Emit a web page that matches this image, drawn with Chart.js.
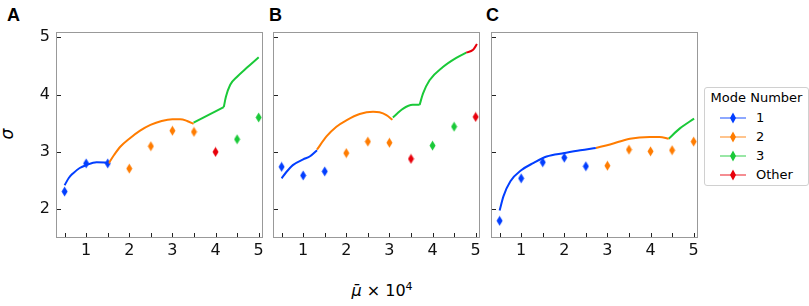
<!DOCTYPE html>
<html>
<head>
<meta charset="utf-8">
<script src="https://cdn.jsdelivr.net/npm/chart.js@4.4.0/dist/chart.umd.min.js"></script>
<style>
  body { margin: 0; background: #fff; width: 809px; height: 306px; position: relative; overflow: hidden; font-family: "DejaVu Sans", sans-serif; }
  canvas { position: absolute; top: 0; }
  .panel { position: absolute; font-family: "Liberation Sans", Arial, sans-serif; font-weight: bold; font-size: 18px; top: 5px; }
  #xlab { position: absolute; left: 330px; width: 104px; text-align: center; top: 280px; font-size: 16px; }
  #ylab { position: absolute; left: 2px; top: 124px; font-size: 17px; font-style: italic; transform: rotate(-90deg); }
  #legend { position: absolute; left: 704px; top: 87px; width: 103px; height: 97px; border: 1px solid #d0d0d0; border-radius: 3px; background: #fff; z-index: 5; font-size: 13px; }
  #legend .title { text-align: center; margin-top: 2px; height: 19px; }
  #legend .row { height: 19px; position: relative; }
  #legend svg { position: absolute; left: 14px; top: 3px; }
  #legend span { position: absolute; left: 51px; top: 1px; }
</style>
</head>
<body>
<div class="panel" style="left:7px">A</div>
<div class="panel" style="left:269px">B</div>
<div class="panel" style="left:486px">C</div>
<div id="ylab">σ</div>
<div id="xlab"><i>μ̄</i> × 10<sup style="font-size:11px">4</sup></div>
<canvas id="chartA" width="273" height="265" style="left:0px"></canvas>
<canvas id="chartB" width="227" height="265" style="left:263px"></canvas>
<canvas id="chartC" width="227" height="265" style="left:481px"></canvas>
<div id="legend"><div class="title">Mode Number</div></div>

<script>
// mu values (x 10^4) of the simulated points, and axis ticks
const muVals = [0.5, 1, 1.5, 2, 2.5, 3, 3.5, 4, 4.5, 5];
const xLabelTicks = [1, 2, 3, 4, 5];
const sigmaTicks = [2, 3, 4, 5];

const modeNames = ['1', '2', '3', 'Other'];
const modeColors = ['#023eff', '#ff7c00', '#1ac938', '#e8000b'];

// points (diamonds); mode index 0..3 (3 = Other)
const sigmaA = [2.31, 2.80, 2.80, 2.71, 3.10, 3.37, 3.35, 3.00, 3.22, 3.60];
const modeA  = [0, 0, 0, 1, 1, 1, 1, 3, 2, 2];
const sigmaB = [2.74, 2.59, 2.66, 2.98, 3.18, 3.16, 2.88, 3.11, 3.44, 3.61];
const modeB  = [0, 0, 0, 1, 1, 1, 3, 2, 2, 3];
const sigmaC = [1.80, 2.54, 2.82, 2.90, 2.75, 2.76, 3.04, 3.01, 3.03, 3.18];
const modeC  = [0, 0, 0, 0, 0, 1, 1, 1, 1, 1];

// theory curves, [mu, sigma]
const curveA_1 = [[0.5, 2.42], [0.6, 2.55], [0.7, 2.63], [0.85, 2.72], [1.0, 2.77], [1.24, 2.82], [1.52, 2.81]];
const curveA_2 = [[1.52, 2.80], [1.65, 2.95], [1.79, 3.09], [2.0, 3.23], [2.25, 3.37], [2.49, 3.47], [2.75, 3.54], [3.0, 3.57], [3.18, 3.57], [3.34, 3.54], [3.49, 3.49]];
const curveA_3a = [[3.49, 3.51], [4.19, 3.78]];
const curveA_3b = [[4.19, 3.78], [4.24, 3.96], [4.34, 4.17], [4.5, 4.31], [4.73, 4.47], [5.0, 4.65]];

const curveB_1 = [[0.5, 2.54], [0.61, 2.65], [0.76, 2.77], [1.0, 2.87], [1.15, 2.92], [1.32, 3.03]];
const curveB_2 = [[1.32, 3.04], [1.54, 3.27], [1.77, 3.44], [2.0, 3.55], [2.31, 3.66], [2.62, 3.70], [2.77, 3.69], [2.93, 3.64], [3.07, 3.56]];
const curveB_3a = [[3.08, 3.60], [3.31, 3.75], [3.54, 3.82], [3.70, 3.82]];
const curveB_3b = [[3.70, 3.82], [3.78, 4.02], [3.93, 4.25], [4.24, 4.48], [4.55, 4.64], [4.78, 4.73]];
const curveB_4 = [[4.78, 4.73], [4.94, 4.78], [5.03, 4.88]];

const curveC_1 = [[0.5, 1.98], [0.59, 2.23], [0.75, 2.49], [1.0, 2.68], [1.29, 2.81], [1.59, 2.92], [2.0, 2.98], [2.37, 3.03], [2.73, 3.07]];
const curveC_2 = [[2.73, 3.07], [3.06, 3.13], [3.52, 3.23], [3.98, 3.26], [4.21, 3.26], [4.42, 3.23]];
const curveC_3 = [[4.42, 3.23], [4.68, 3.41], [5.01, 3.58]];

// thin diamond marker like matplotlib 'd'
function diamond(color) {
    const c = document.createElement('canvas');
    c.width = 7; c.height = 11;
    const g = c.getContext('2d');
    g.fillStyle = color;
    g.beginPath();
    g.moveTo(3.5, 0.5); g.lineTo(6.5, 5.5); g.lineTo(3.5, 10.5); g.lineTo(0.5, 5.5);
    g.closePath();
    g.fill();
    return c;
}
const markers = modeColors.map(diamond);

const framePlugin = {
    id: 'frame',
    afterDraw(chart) {
        const ctx = chart.ctx, a = chart.chartArea;
        const x = chart.scales.x, y = chart.scales.y;
        ctx.save();
        ctx.strokeStyle = '#222';
        ctx.lineWidth = 1;
        ctx.beginPath();
        muVals.forEach(v => {
            const px = Math.round(x.getPixelForValue(v)) + 0.5;
            ctx.moveTo(px, a.bottom); ctx.lineTo(px, a.bottom - 5);
        });
        sigmaTicks.forEach(v => {
            const py = Math.round(y.getPixelForValue(v)) + 0.5;
            ctx.moveTo(a.left, py); ctx.lineTo(a.left + 5, py);
        });
        ctx.stroke();
        ctx.strokeStyle = '#999';
        ctx.strokeRect(a.left + 0.5, a.top + 0.5, a.width - 1, a.height - 1);
        ctx.restore();
    }
};

function makePanel(id, axisW, sigma, modes, curves, showY) {
    let datasets = curves.map(c => ({
        type: 'line',
        data: c.pts.map(p => ({x: p[0], y: p[1]})),
        borderColor: modeColors[c.mode],
        borderWidth: 2,
        pointRadius: 0,
        cubicInterpolationMode: 'monotone',
        fill: false
    }));
    datasets.push({
        type: 'scatter',
        data: muVals.map((m, i) => ({x: m, y: sigma[i]})),
        pointStyle: modes.map(k => markers[k]),
        pointRadius: 4
    });
    new Chart(document.getElementById(id), {
        data: {datasets: datasets},
        plugins: [framePlugin],
        options: {
            responsive: false,
            animation: false,
            layout: {padding: {top: 32, right: 10, left: 0, bottom: 0}},
            plugins: {legend: {display: false}, tooltip: {enabled: false}},
            scales: {
                x: {
                    type: 'linear', min: 0.3, max: 5.1,
                    grid: {display: false, drawTicks: false},
                    border: {display: false},
                    afterBuildTicks: s => { s.ticks = xLabelTicks.map(v => ({value: v})); },
                    afterFit: s => { s.height = 27; },
                    ticks: {padding: 3, color: '#111', font: {family: 'DejaVu Sans', size: 16}}
                },
                y: {
                    type: 'linear', min: 1.5, max: 5.09,
                    grid: {display: false, drawTicks: false},
                    border: {display: false},
                    afterBuildTicks: s => { s.ticks = sigmaTicks.map(v => ({value: v})); },
                    afterFit: s => { s.width = axisW; },
                    ticks: {display: showY, padding: 6, color: '#111', font: {family: 'DejaVu Sans', size: 16}}
                }
            }
        }
    });
}

makePanel('chartA', 56, sigmaA, modeA, [
    {mode: 0, pts: curveA_1}, {mode: 1, pts: curveA_2},
    {mode: 2, pts: curveA_3a}, {mode: 2, pts: curveA_3b}
], true);
makePanel('chartB', 10, sigmaB, modeB, [
    {mode: 0, pts: curveB_1}, {mode: 1, pts: curveB_2},
    {mode: 2, pts: curveB_3a}, {mode: 2, pts: curveB_3b}, {mode: 3, pts: curveB_4}
], false);
makePanel('chartC', 10, sigmaC, modeC, [
    {mode: 0, pts: curveC_1}, {mode: 1, pts: curveC_2}, {mode: 2, pts: curveC_3}
], false);

// legend
const leg = document.getElementById('legend');
modeNames.forEach((name, i) => {
    const row = document.createElement('div');
    row.className = 'row';
    row.innerHTML = '<svg width="28" height="12"><line x1="1" y1="6" x2="27" y2="6" stroke="' + modeColors[i] +
        '" stroke-opacity="0.6" stroke-width="1.5"/><polygon points="14,0.5 17,6 14,11.5 11,6" fill="' + modeColors[i] +
        '"/></svg><span>' + name + '</span>';
    leg.appendChild(row);
});
</script>
</body>
</html>
